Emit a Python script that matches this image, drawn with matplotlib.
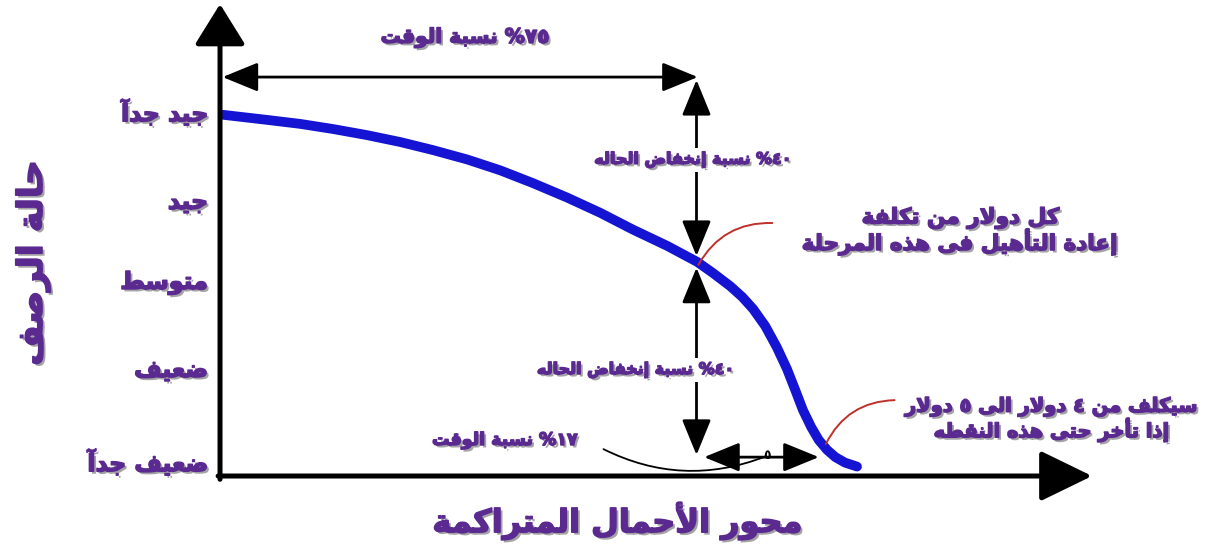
import matplotlib
matplotlib.use("Agg")
import matplotlib.pyplot as plt
import matplotlib.patheffects as pe

# ---------------- data ----------------
load_pct = [0.5, 7.4, 12.6, 17.7, 23.1, 28.3, 33.4, 38.8, 44.0, 49.1, 54.5,
            59.7, 64.8, 70.2, 74.9, 77.4, 80.1, 82.0, 83.7, 85.6, 87.4, 89.0,
            90.3, 91.5, 92.8, 94.0, 95.3, 96.6, 98.1, 100.0]
condition = [99.5, 98.1, 97.0, 95.6, 93.9, 92.0, 89.8, 87.2, 84.2, 80.7, 76.7,
             72.5, 67.9, 63.4, 59.0, 55.9, 52.3, 49.3, 46.0, 41.3, 35.5, 29.5,
             23.7, 18.2, 13.5, 9.9, 7.2, 5.2, 3.7, 2.6]

cond_levels = [100, 75.5, 53.2, 29.2, 3.6]
cond_labels = ["جيد جدآ", "جيد", "متوسط", "ضعيف", "ضعيف جدآ"]

y_title = "حالة الرصف"
x_title = "محور الأحمال المتراكمة"
time_75 = "٧٥% نسبة الوقت"
time_17 = "١٧% نسبة الوقت"
drop_40 = "٤٠% نسبة إنخفاض الحاله"
cost_1 = ["كل دولار من تكلفة", "إعادة التأهيل فى هذه المرحلة"]
cost_2 = ["سيكلف من ٤ دولار الى ٥ دولار", "إذا تأخر حتى هذه النقطه"]
five = "٥"

# ---------------- simple Arabic shaping ----------------
_LET = [('ء', 0xFE80, 1), ('آ', 0xFE81, 2), ('أ', 0xFE83, 2), ('ؤ', 0xFE85, 2),
        ('إ', 0xFE87, 2), ('ئ', 0xFE89, 4), ('ا', 0xFE8D, 2), ('ب', 0xFE8F, 4),
        ('ة', 0xFE93, 2), ('ت', 0xFE95, 4), ('ث', 0xFE99, 4), ('ج', 0xFE9D, 4),
        ('ح', 0xFEA1, 4), ('خ', 0xFEA5, 4), ('د', 0xFEA9, 2), ('ذ', 0xFEAB, 2),
        ('ر', 0xFEAD, 2), ('ز', 0xFEAF, 2), ('س', 0xFEB1, 4), ('ش', 0xFEB5, 4),
        ('ص', 0xFEB9, 4), ('ض', 0xFEBD, 4), ('ط', 0xFEC1, 4), ('ظ', 0xFEC5, 4),
        ('ع', 0xFEC9, 4), ('غ', 0xFECD, 4), ('ف', 0xFED1, 4), ('ق', 0xFED5, 4),
        ('ك', 0xFED9, 4), ('ل', 0xFEDD, 4), ('م', 0xFEE1, 4), ('ن', 0xFEE5, 4),
        ('ه', 0xFEE9, 4), ('و', 0xFEED, 2), ('ى', 0xFEEF, 2), ('ي', 0xFEF1, 4)]
FORMS = {c: (s, k) for c, s, k in _LET}
LAMALEF = {'آ': 0xFEF5, 'أ': 0xFEF7, 'إ': 0xFEF9, 'ا': 0xFEFB}
DIGITS = set("0123456789٠١٢٣٤٥٦٧٨٩")


def _dual(c):
    return c in FORMS and FORMS[c][1] == 4


def shape_line(s):
    out = []
    n = len(s)
    i = 0
    while i < n:
        c = s[i]
        if c not in FORMS:
            out.append(c)
            i += 1
            continue
        prev = s[i - 1] if i > 0 else ''
        pj = _dual(prev)
        if c == 'ل' and i + 1 < n and s[i + 1] in LAMALEF:
            base = LAMALEF[s[i + 1]]
            out.append(chr(base + 1 if pj else base))
            i += 2
            continue
        start, k = FORMS[c]
        nxt = s[i + 1] if i + 1 < n else ''
        nj = k == 4 and nxt in FORMS and nxt != 'ء'
        if k == 1:
            f = 0
        elif pj and nj:
            f = 3
        elif pj:
            f = 1
        elif nj:
            f = 2
        else:
            f = 0
        out.append(chr(start + f))
        i += 1
    vis = out[::-1]
    res = []
    j = 0
    while j < len(vis):
        if vis[j] in DIGITS:
            k = j
            while k < len(vis) and vis[k] in DIGITS:
                k += 1
            res.extend(vis[j:k][::-1])
            j = k
        else:
            res.append(vis[j])
            j += 1
    return "".join(res)


def ar(s):
    return "\n".join(shape_line(x) for x in s.split("\n"))


# ---------------- figure ----------------
plt.rcParams['font.family'] = ['DejaVu Sans']
fig = plt.figure(figsize=(12.11, 5.48), dpi=100)
ax = fig.add_axes([0, 0, 1, 1])
ax.set_xlim(-34.54, 155.57)
ax.set_ylim(-19.83, 131.13)
ax.axis('off')

PURPLE = '#5b2a91'
effects = [pe.SimplePatchShadow(offset=(1.8, -1.8), shadow_rgbFace='#9a9a9a', alpha=0.9),
           pe.Stroke(linewidth=1.1, foreground=PURPLE), pe.Normal()]


def ptext(x, y, s, size, **kw):
    kw.setdefault('ha', 'center')
    kw.setdefault('va', 'center')
    return ax.text(x, y, ar(s), fontsize=size, fontweight='bold', color=PURPLE,
                   path_effects=effects, **kw)


# curve
ax.plot(load_pct, condition, color='#1414d2', lw=7, solid_capstyle='round',
        solid_joinstyle='round', zorder=3)

# main axes arrows
ax.annotate('', xy=(0, 130), xytext=(0, -0.9),
            arrowprops=dict(arrowstyle='-|>,head_length=0.9,head_width=0.56',
                            mutation_scale=28, lw=3.6, color='black',
                            shrinkA=0, shrinkB=0), zorder=4)
ax.annotate('', xy=(136.9, 0), xytext=(-0.3, 0),
            arrowprops=dict(arrowstyle='-|>,head_length=1.15,head_width=0.56',
                            mutation_scale=28, lw=3.6, color='black',
                            shrinkA=0, shrinkB=0), zorder=4)

dbl = dict(arrowstyle='<|-|>,head_length=1.1,head_width=0.45', mutation_scale=20,
           lw=2, color='black', shrinkA=0, shrinkB=0)
# 75% time arrow
ax.annotate('', xy=(75, 109.9), xytext=(0.4, 109.9), arrowprops=dbl, zorder=2)
# vertical drop arrows
ax.annotate('', xy=(74.8, 109.1), xytext=(74.8, 60.6), arrowprops=dbl, zorder=2)
ax.annotate('', xy=(74.8, 57.4), xytext=(74.8, 5.8), arrowprops=dbl, zorder=2)
# 17% small arrow
ax.annotate('', xy=(76.0, 5.2), xytext=(94.0, 5.2), arrowprops=dbl, zorder=2)
ax.text(85.9, 5.6, five, fontsize=9, color='black', ha='center', va='center',
        fontweight='bold', zorder=5)

# leader line from 17% label
ax.annotate('', xy=(85.5, 5.3), xytext=(60.2, 7.4),
            arrowprops=dict(arrowstyle='-', lw=1.3, color='black',
                            connectionstyle='arc3,rad=0.22', shrinkA=0, shrinkB=0))

# red leader lines
ax.annotate('', xy=(86.7, 69.7), xytext=(75.1, 58.2),
            arrowprops=dict(arrowstyle='-', lw=1.4, color='#c0302a',
                            connectionstyle='arc3,rad=-0.3', shrinkA=0, shrinkB=0))
ax.annotate('', xy=(105.9, 20.9), xytext=(95.1, 8.8),
            arrowprops=dict(arrowstyle='-', lw=1.4, color='#c0302a',
                            connectionstyle='arc3,rad=-0.3', shrinkA=0, shrinkB=0))

# texts
ptext(38.5, 120.7, time_75, 14.5)
bbox = dict(facecolor='white', edgecolor='none', pad=3)
ptext(74.3, 87.1, drop_40, 11.5, bbox=bbox, zorder=6)
ptext(65.3, 29.2, drop_40, 11.5, bbox=bbox, zorder=6)
ptext(44.7, 9.9, time_17, 12.5)
ptext(116.2, 71.1, cost_1[0], 15.5, zorder=6)
ptext(116.0, 64.5, cost_1[1], 15.5, zorder=6)
ptext(130.6, 19.0, cost_2[0], 14, zorder=6)
ptext(130.6, 12.7, cost_2[1], 14, zorder=6)

for lvl, lab in zip(cond_levels, cond_labels):
    ptext(-1.9, lvl, lab, 17, ha='right')

ptext(-29.4, 58.7, y_title, 25, rotation=90)
ptext(62.5, -12.3, x_title, 23)

fig.savefig('out.png', dpi=100)
